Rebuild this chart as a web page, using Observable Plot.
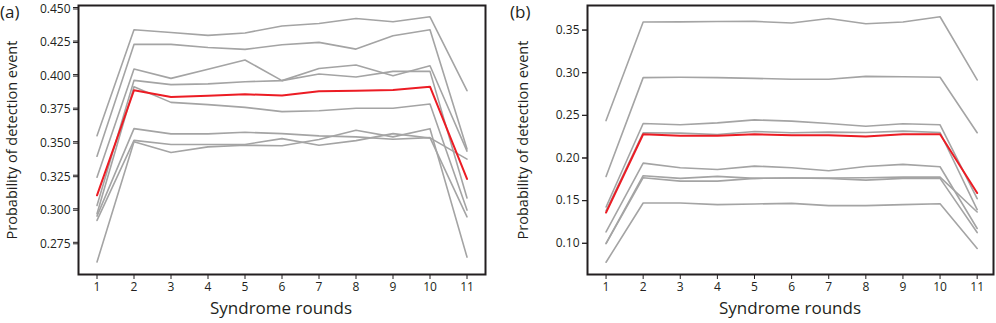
<!DOCTYPE html>
<html>
<head>
<meta charset="utf-8">
<script src="https://cdn.jsdelivr.net/npm/d3@7"></script>
<script src="https://cdn.jsdelivr.net/npm/@observablehq/plot@0.6"></script>
<style>
  html, body { margin: 0; padding: 0; background: #fff; }
  #root { position: relative; width: 996px; height: 323px; font-family: "Open Sans", sans-serif; color: #231f20; overflow: hidden; }
  .panel { position: absolute; top: 0; overflow: visible; }
  .lbl { position: absolute; white-space: nowrap; color: #231f20; }
  .ytitle { transform: translate(-50%, -50%) rotate(-90deg); font-size: 14.5px; }
  .xtitle { transform: translate(-50%, -50%); font-size: 17px; }
  .tag { font-size: 17px; }
</style>
</head>
<body>
<div id="root"></div>
<script>
const rounds = [1, 2, 3, 4, 5, 6, 7, 8, 9, 10, 11];

// Panel (a): individual gray curves
const a1 = [0.3545, 0.4334, 0.4314, 0.4292, 0.4310, 0.4362, 0.4381, 0.4418, 0.4394, 0.4431, 0.3880];
const a2 = [0.3391, 0.4225, 0.4225, 0.4202, 0.4188, 0.4222, 0.4240, 0.4190, 0.4289, 0.4334, 0.3446];
const a3 = [0.3235, 0.4042, 0.3972, 0.4040, 0.4109, 0.3955, 0.4046, 0.4071, 0.3992, 0.4066, 0.3430];
const a4 = [0.3025, 0.3957, 0.3925, 0.3931, 0.3947, 0.3955, 0.4004, 0.3982, 0.4024, 0.4024, 0.3080];
const a5 = [0.2963, 0.3910, 0.3793, 0.3776, 0.3756, 0.3724, 0.3730, 0.3749, 0.3749, 0.3781, 0.2990];
const a6 = [0.2945, 0.3597, 0.3558, 0.3558, 0.3570, 0.3560, 0.3543, 0.3536, 0.3518, 0.3530, 0.2940];
const a7 = [0.2913, 0.3510, 0.3479, 0.3479, 0.3479, 0.3523, 0.3473, 0.3508, 0.3560, 0.3528, 0.3370];
const a8 = [0.2603, 0.3499, 0.3419, 0.3461, 0.3473, 0.3470, 0.3516, 0.3585, 0.3536, 0.3597, 0.2640];
// Panel (a): red average curve
const aMean = [0.3100, 0.3883, 0.3833, 0.3843, 0.3853, 0.3845, 0.3875, 0.3880, 0.3885, 0.3910, 0.3222];

// Panel (b): individual gray curves
const b1 = [0.2439, 0.3594, 0.3596, 0.3600, 0.3602, 0.3582, 0.3636, 0.3574, 0.3594, 0.3656, 0.2915];
const b2 = [0.1784, 0.2942, 0.2946, 0.2942, 0.2934, 0.2923, 0.2923, 0.2957, 0.2953, 0.2946, 0.2296];
const b3 = [0.1425, 0.2404, 0.2389, 0.2412, 0.2447, 0.2432, 0.2404, 0.2373, 0.2401, 0.2389, 0.1523];
const b4 = [0.1380, 0.2296, 0.2292, 0.2276, 0.2311, 0.2296, 0.2303, 0.2299, 0.2315, 0.2299, 0.1395];
const b5 = [0.1133, 0.1940, 0.1886, 0.1866, 0.1905, 0.1886, 0.1851, 0.1901, 0.1925, 0.1897, 0.1173];
const b6 = [0.1000, 0.1792, 0.1761, 0.1784, 0.1761, 0.1765, 0.1765, 0.1769, 0.1776, 0.1776, 0.1367];
const b7 = [0.0995, 0.1769, 0.1729, 0.1729, 0.1761, 0.1765, 0.1760, 0.1740, 0.1761, 0.1761, 0.1126];
const b8 = [0.0778, 0.1472, 0.1472, 0.1453, 0.1461, 0.1468, 0.1441, 0.1441, 0.1453, 0.1464, 0.0939];
// Panel (b): red average curve
const bMean = [0.1360, 0.2279, 0.2260, 0.2260, 0.2279, 0.2268, 0.2268, 0.2252, 0.2279, 0.2279, 0.1589];

const aTicks = [0.275, 0.300, 0.325, 0.350, 0.375, 0.400, 0.425, 0.450];
const bTicks = [0.10, 0.15, 0.20, 0.25, 0.30, 0.35];

const xTitle = "Syndrome rounds";
const yTitle = "Probability of detection event";

function toRows(seriesList) {
  const rows = [];
  seriesList.forEach((arr, k) => arr.forEach((v, i) => rows.push({round: rounds[i], value: v, series: k})));
  return rows;
}

const INK = "#231f20";

function panel({grays, mean, yDomain, xDomain, yTicks, yFormat, marginLeft, marginRight, labelDy}) {
  return Plot.plot({
    width: 498,
    height: 323,
    marginLeft, marginRight,
    marginTop: 5,
    marginBottom: 49,
    style: {fontFamily: "Open Sans, sans-serif", fontSize: "12px", color: INK, background: "transparent", overflow: "visible"},
    x: {domain: xDomain},
    y: {domain: yDomain},
    marks: [
      Plot.line(toRows(grays), {x: "round", y: "value", z: "series", stroke: "#a4a4a4", strokeWidth: 1.6}),
      Plot.line(toRows([mean]), {x: "round", y: "value", stroke: "#ec1c24", strokeWidth: 2}),
      Plot.axisX({ticks: rounds, tickFormat: d3.format("d"), tickSize: 5, tickPadding: 3, label: null, stroke: INK, fill: INK}),
      Plot.axisY({ticks: yTicks, tickSize: 5, label: null, stroke: INK, text: null}),
      Plot.axisY({ticks: yTicks, tickFormat: d3.format(yFormat), tickSize: 5, tickPadding: 3, label: null, fill: INK, tick: null, dy: labelDy}),
      Plot.frame({stroke: INK, strokeWidth: 2})
    ]
  });
}

const root = document.getElementById("root");

const pa = panel({grays: [a1, a2, a3, a4, a5, a6, a7, a8], mean: aMean, yDomain: [0.251, 0.4515], xDomain: [0.5, 11.5], yTicks: aTicks, yFormat: ".3f", marginLeft: 78, marginRight: 13, labelDy: 1.5});
pa.classList.add("panel"); pa.style.left = "0px";
root.appendChild(pa);

const pb = panel({grays: [b1, b2, b3, b4, b5, b6, b7, b8], mean: bMean, yDomain: [0.0634, 0.3788], xDomain: [0.5, 11.44], yTicks: bTicks, yFormat: ".2f", marginLeft: 89, marginRight: 3, labelDy: 0});
pb.classList.add("panel"); pb.style.left = "498px";
root.appendChild(pb);

function addLabel(text, cls, left, top) {
  const d = document.createElement("div");
  d.className = "lbl " + cls;
  d.textContent = text;
  d.style.left = left + "px";
  d.style.top = top + "px";
  root.appendChild(d);
}
addLabel("(a)", "tag", 0, 0);
addLabel("(b)", "tag", 510, 0);
addLabel(yTitle, "ytitle", 11, 140);
addLabel(yTitle, "ytitle", 522, 140);
addLabel(xTitle, "xtitle", 281, 307);
addLabel(xTitle, "xtitle", 790, 307);
</script>
</body>
</html>
